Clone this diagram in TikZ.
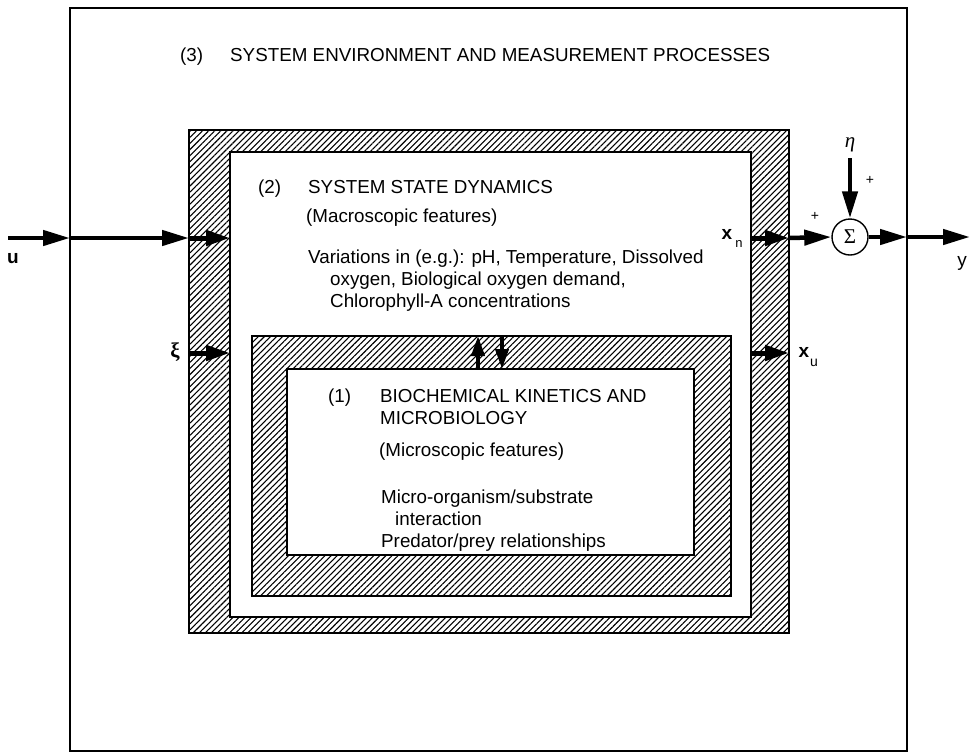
\documentclass[tikz,border=0pt]{standalone}
\usepackage{fontspec}
\setmainfont{Liberation Sans}
\newfontfamily\greekfont{Liberation Serif}
\usetikzlibrary{arrows.meta,patterns.meta}

\begin{document}
\begin{tikzpicture}[x=1pt,y=-1pt,
  txt/.style={anchor=base west, inner sep=0pt, font=\fontsize{18.8}{22}\selectfont},
  lbl/.style={inner sep=0pt, font=\fontsize{19}{22}\selectfont},
  hatch/.style={pattern={Lines[angle=45,distance=4.3pt,line width=1.1pt]}},
  edge/.style={line width=1.8pt},
  flow/.style={line width=4.5pt, -{Triangle[length=27pt,width=15pt]}},
  bandflow/.style={line width=5pt, -{Triangle[length=24pt,width=15pt]}},
  vflow/.style={line width=4pt, -{Triangle[length=20pt,width=13pt]}}]
\useasboundingbox (0,0) rectangle (975,753);

% (3) environment frame
\draw[line width=1.6pt] (70,8) rectangle (907,751);

% (2) state dynamics: hatched band
\fill[hatch] (189,130) rectangle (789,633);
\fill[white] (230,152) rectangle (751,617);
\draw[edge] (189,130) rectangle (789,633);
\draw[edge] (230,152) rectangle (751,617);

% (1) kinetics: hatched band
\fill[hatch] (252,336) rectangle (731,596);
\fill[white] (287,369) rectangle (694,555);
\draw[edge] (252,336) rectangle (731,596);
\draw[edge] (287,369) rectangle (694,555);

% texts
\node[txt] (n3) at (180,61) {(3)};
\node[txt] (t3) at (230,61) {SYSTEM ENVIRONMENT AND MEASUREMENT PROCESSES};

\node[txt] (n2) at (258,193) {(2)};
\node[txt] (t2) at (308,193) {SYSTEM STATE DYNAMICS};
\node[txt] (m2) at (306,222) {(Macroscopic features)};
\node[txt] (v1) at (308,263) {Variations in (e.g.): pH, Temperature, Dissolved};
\node[txt] (v2) at (330,285) {oxygen, Biological oxygen demand,};
\node[txt] (v3) at (330,307) {Chlorophyll-A concentrations};

\node[txt] (n1) at (328,402) {(1)};
\node[txt] (t1a) at (380,402) {BIOCHEMICAL KINETICS AND};
\node[txt] (t1b) at (380,424) {MICROBIOLOGY};
\node[txt] (m1) at (379,456) {(Microscopic features)};
\node[txt] (p1) at (381,503) {Micro-organism/substrate};
\node[txt] (p2) at (395,525) {interaction};
\node[txt] (p3) at (381,547) {Predator/prey relationships};

% summing junction
\node[circle, draw, line width=1.4pt, minimum size=36pt, inner sep=0pt,
      font=\greekfont\fontsize{21}{21}\selectfont] (sum) at (850,237) {Σ};

% connector end points
\coordinate (uL) at (8,238);
\coordinate (uF) at (70,238);
\coordinate (uB) at (189,238);
\coordinate (uI) at (230,238);
\coordinate (xiB) at (189,353);
\coordinate (xiI) at (230,353);
\coordinate (xnI) at (751,238);
\coordinate (xnB) at (789,238);
\coordinate (xuI) at (751,353);
\coordinate (xuB) at (789,353);
\coordinate (yF) at (907,237);
\coordinate (yR) at (970,237);
\coordinate (etaT) at (850,158);
\coordinate (upB) at (478,369);
\coordinate (upT) at (478,336);
\coordinate (dnT) at (502,336);
\coordinate (dnB) at (502,369);

% inputs
\draw[flow] (uL) -- (uF);
\draw[flow] (uF) -- (uB);
\draw[bandflow] (uB) -- (uI);
\draw[bandflow] (xiB) -- (xiI);

% outputs
\draw[bandflow] (xnI) -- (xnB);
\draw[flow] (xnB) -- (sum.west);
\draw[bandflow] (xuI) -- (xuB);
\draw[flow] (sum.east) -- (yF);
\draw[flow] (yF) -- (yR);
\draw[flow] (etaT) -- (sum.north);

% exchange between (1) and (2)
\draw[vflow] (upB) -- (upT);
\draw[vflow] (dnT) -- (dnB);

% signal labels
\node[lbl] (lu) at (13,259) {\bfseries u};
\node[lbl, font=\greekfont\bfseries\fontsize{21}{21}\selectfont] (lxi) at (175,352) {ξ};
\node[lbl] (lxn) at (727,234) {\bfseries x};
\node[lbl, font=\fontsize{13}{13}\selectfont] (lxns) at (739,244) {n};
\node[lbl] (lxu) at (804,352) {\bfseries x};
\node[lbl, font=\fontsize{14}{14}\selectfont] (lxus) at (814,363) {u};
\node[lbl] (ly) at (962,263) {y};
\node[lbl, font=\greekfont\itshape\fontsize{21}{21}\selectfont] (leta) at (850,145) {η};
\node[lbl, font=\fontsize{14}{14}\selectfont] (pl1) at (870,180) {+};
\node[lbl, font=\fontsize{14}{14}\selectfont] (pl2) at (815,216) {+};
\end{tikzpicture}
\end{document}
